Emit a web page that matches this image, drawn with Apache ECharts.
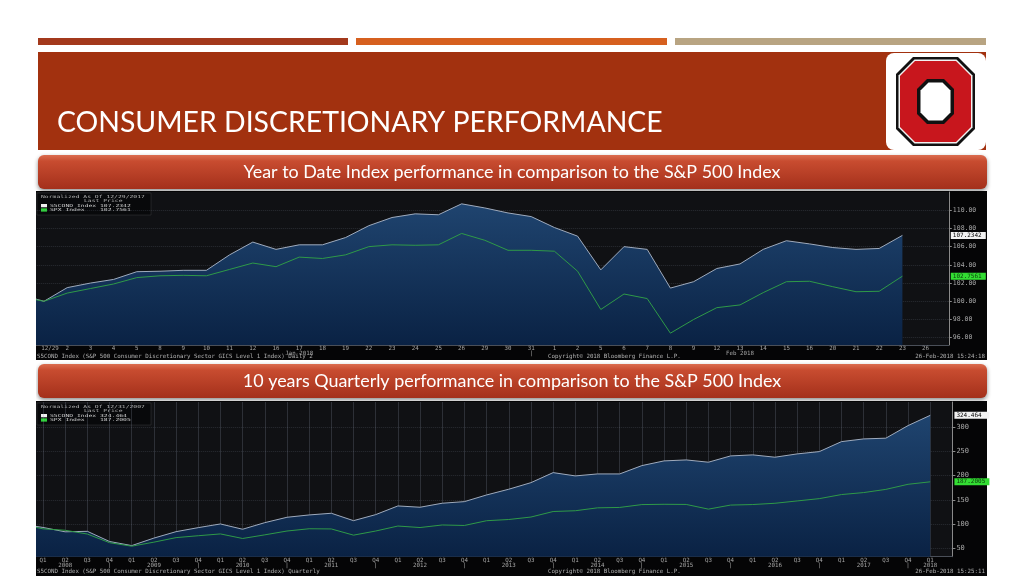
<!DOCTYPE html>
<html><head><meta charset="utf-8">
<script src="https://cdn.jsdelivr.net/npm/echarts@6/dist/echarts.min.js"></script>
<style>html,body{margin:0;padding:0;background:#fff}#c{width:1024px;height:576px}</style>
</head><body><div id="c"></div>
<script>
// ---- Year-to-date (daily, normalized 12/29/2017 = 100) ----
const ytdDates = ['', '12/29','2','3','4','5','8','9','10','11','12','16','17\nJan 2018','18','19','22','23','24','25','26','29','30','31\n|',
  '1','2','5','6','7','8','9','12','13\nFeb 2018','14','15','16','20','21','22','23','26',''];
const ytdCons = [100.7,100.0,101.5,102.0,102.4,103.25,103.3,103.4,103.4,105.1,106.5,105.7,106.2,106.2,107.0,108.3,109.2,109.6,109.5,110.7,110.25,109.7,109.3,
  108.1,107.15,103.45,106.0,105.7,101.45,102.15,103.6,104.1,105.7,106.65,106.3,105.9,105.7,105.8,107.2342,null,null];
const ytdSpx = [100.5,100.0,100.9,101.4,101.9,102.6,102.8,102.85,102.8,103.5,104.2,103.8,104.85,104.7,105.1,106.0,106.2,106.15,106.2,107.45,106.7,105.6,105.6,
  105.5,103.3,99.1,100.8,100.3,96.5,98.0,99.3,99.6,100.95,102.15,102.2,101.6,101.05,101.1,102.7561,null,null];
const ytdTicks = [96,98,100,102,104,106,108,110];

// ---- 10 years quarterly (normalized 12/31/2007 = 100) ----
const qtrLabels = ['',
  'Q1','Q2\n2008','Q3','Q4\n|','Q1','Q2\n2009','Q3','Q4\n|','Q1','Q2\n2010','Q3','Q4\n|','Q1','Q2\n2011','Q3','Q4\n|',
  'Q1','Q2\n2012','Q3','Q4\n|','Q1','Q2\n2013','Q3','Q4\n|','Q1','Q2\n2014','Q3','Q4\n|','Q1','Q2\n2015','Q3','Q4\n|',
  'Q1','Q2\n2016','Q3','Q4\n|','Q1','Q2\n2017','Q3','Q4\n|','Q1\n2018',''];
const qtrCons = [100,93,84,85,64,55.5,71,84.3,92.6,100.2,89.3,102.9,114,118.8,122.3,107,119.5,137.4,134.7,143,146.3,160.1,171.9,185.5,206.2,
  199.4,203.5,203.5,220.7,230.4,232.4,227.7,240.7,242.8,238,244.8,249.6,270.2,275.8,277.3,303.3,324.464,null];
const qtrSpx = [100,90.1,87.2,79.4,61.5,54.3,62.6,72.0,75.9,79.6,70.2,77.7,85.6,90.3,89.9,77.1,85.6,95.9,92.8,98.1,97.1,106.9,109.4,114.5,125.9,
  127.5,133.5,134.3,140.2,140.8,140.5,130.8,139.2,140.3,142.9,147.7,152.5,160.9,165.0,171.6,182.1,187.2005,null];
const qtrTicks = [50,100,150,200,250,300];

const ytdTitle = 'Year to Date Index performance in comparison to the S&P 500 Index';
const qtrTitle = '10 years Quarterly performance in comparison to the S&P 500 Index';
const slideTitle = 'CONSUMER DISCRETIONARY PERFORMANCE';

function lastVal(a){ for(let i=a.length-1;i>=0;i--){ if(a[i]!=null) return a[i]; } }

const MONO = 'DejaVu Sans Mono';
const chart = echarts.init(document.getElementById('c'), null, {renderer:'canvas'});

function areaGrad(){
  return new echarts.graphic.LinearGradient(0,0,0,1,[{offset:0,color:'#1f446f'},{offset:1,color:'#0a2244'}]);
}
function xAxisCfg(grid, data, split){
  return {
    type:'category', gridIndex:grid, data:data, boundaryGap:false,
    axisLine:{show:true, lineStyle:{color:'#4a4f58', width:1}},
    axisTick:{show:false},
    axisLabel:{interval:0, fontSize:5.8, fontFamily:MONO, color:'#a5a5a5', margin:1, lineHeight:5,
      formatter:function(v, i){ return (grid===0 && i===1) ? '{a|'+v+'}' : v; },
      rich:{a:{fontSize:5.8, fontFamily:MONO, color:'#a5a5a5', padding:[0,0,0,12], lineHeight:5}}},
    splitLine:{show:split, interval:0, lineStyle:{color:'rgba(150,160,180,0.22)', width:1}}
  };
}
function yAxisCfg(grid, min, max, ticks, dec, fs){
  return {
    type:'value', gridIndex:grid, position:'right', min:min, max:max,
    axisLine:{show:true, lineStyle:{color:'#8a8a8a', width:1}},
    axisTick:{show:true, length:3, customValues:ticks, lineStyle:{color:'#8a8a8a'}},
    axisLabel:{customValues:ticks, fontSize:fs, fontFamily:MONO, color:'#a8a8a8', margin:4,
      formatter:function(v){ return v.toFixed(dec); }},
    splitLine:{show:true, lineStyle:{color:'rgba(130,140,160,0.22)', type:'dotted', width:1}}
  };
}
function tagLine(val, bg, fg){
  return {
    silent:true, symbol:['none','none'], animation:false,
    lineStyle:{color:'rgba(0,0,0,0)', width:1, type:'solid'},
    label:{show:true, position:'end', distance:2, formatter:function(){ return String(val); },
      backgroundColor:bg, color:fg, fontSize:6, fontFamily:MONO, padding:[1,2,0,2], width:31, opacity:1},
    emphasis:{disabled:true},
    data:[{yAxis:val}]
  };
}
function legendGroup(x, y, asOf, v1, v2){
  const sy = 0.66;
  return {
    type:'group', x:x, y:y, children:[
      {type:'rect', shape:{x:0, y:0, width:114, height:22}, style:{fill:'#08090b', stroke:'rgba(90,90,90,0.6)', lineWidth:0.5}},
      {type:'group', x:4, y:2, scaleY:sy, children:[
        {type:'text', x:0, y:0, style:{text:'Normalized As Of '+asOf, font:'6.4px '+MONO, fill:'#b5b5b5'}},
        {type:'text', x:43, y:6.6, style:{text:'Last Price', font:'6.4px '+MONO, fill:'#b5b5b5'}},
        {type:'rect', shape:{x:0, y:13.6, width:6, height:5}, style:{fill:'#f0f0f0'}},
        {type:'text', x:9, y:13, style:{text:'S5COND Index '+v1, font:'6.4px '+MONO, fill:'#d0d0d0'}},
        {type:'rect', shape:{x:0, y:20.2, width:6, height:5}, style:{fill:'#2fd23a'}},
        {type:'text', x:9, y:19.6, style:{text:'SPX Index    '+v2, font:'6.4px '+MONO, fill:'#d0d0d0'}}
      ]}
    ]
  };
}
function footer(y, left, right){
  const f = '5.8px '+MONO;
  return [
    {type:'text', x:37, y:y, style:{text:left, font:f, fill:'#b0b0b0', verticalAlign:'middle'}},
    {type:'text', x:548, y:y, style:{text:'Copyright\u00a9 2018 Bloomberg Finance L.P.', font:f, fill:'#b0b0b0', verticalAlign:'middle'}},
    {type:'text', x:985, y:y, style:{text:right, font:f, fill:'#b0b0b0', verticalAlign:'middle', align:'right'}}
  ];
}
function oct(x1,y1,x2,y2,c){
  return [[x1+c,y1],[x2-c,y1],[x2,y1+c],[x2,y2-c],[x2-c,y2],[x1+c,y2],[x1,y2-c],[x1,y1+c]];
}
function banner(y, text){
  return [
    {type:'rect', shape:{x:38, y:y, width:949, height:34, r:6}, z:-5,
      style:{fill:new echarts.graphic.LinearGradient(0,0,0,1,[{offset:0,color:'#db6d50'},{offset:0.18,color:'#c84c30'},{offset:1,color:'#a4301b'}]),
        shadowBlur:4, shadowColor:'rgba(0,0,0,0.45)', shadowOffsetY:2}},
    {type:'text', x:512, y:y+17, z:-4, style:{text:text, font:'17.9px Lato', fill:'#ffffff', align:'center', verticalAlign:'middle'}}
  ];
}

const graphics = [
  // top bars
  {type:'rect', shape:{x:38, y:38, width:310, height:7}, z:-5, style:{fill:'#a3391c'}},
  {type:'rect', shape:{x:356, y:38, width:311, height:7}, z:-5, style:{fill:'#d6601f'}},
  {type:'rect', shape:{x:675, y:38, width:311, height:7}, z:-5, style:{fill:'#b8a482'}},
  // header block
  {type:'rect', shape:{x:38, y:52, width:948, height:98}, z:-5, style:{fill:'#a2310f'}},
  {type:'text', x:57, y:123, z:-4, style:{text:slideTitle, font:'28.4px Lato', fill:'#ffffff', verticalAlign:'middle'}},
  // logo
  {type:'rect', shape:{x:886, y:53, width:100, height:97, r:8}, z:-4, style:{fill:'#ffffff'}},
  {type:'polygon', shape:{points:oct(896,57,975,146,17)}, z:-3, style:{fill:'#111111'}},
  {type:'polygon', shape:{points:oct(898.5,59.5,972.5,143.5,16)}, z:-3, style:{fill:'#f2f2f2'}},
  {type:'polygon', shape:{points:oct(900,61,971,142,15)}, z:-3, style:{fill:'#c8161d'}},
  {type:'polygon', shape:{points:oct(917,79,954,124,10)}, z:-3, style:{fill:'#111111'}},
  {type:'polygon', shape:{points:oct(920.5,82.5,950.5,120.5,8)}, z:-3, style:{fill:'#ffffff'}},
  // chart panels
  {type:'rect', shape:{x:36, y:191, width:951, height:169}, z:-5, style:{fill:'#050506'}},
  {type:'rect', shape:{x:36, y:401, width:951, height:175}, z:-5, style:{fill:'#050506'}},
  // white cover left of panels
  {type:'rect', shape:{x:0, y:190, width:36, height:386}, z:50, style:{fill:'#ffffff'}},
  legendGroup(37, 193, '12/29/2017', lastVal(ytdCons), lastVal(ytdSpx)),
  legendGroup(37, 403, '12/31/2007', lastVal(qtrCons), lastVal(qtrSpx))
].concat(banner(155, ytdTitle), banner(364, qtrTitle),
  footer(356.5, 'S5COND Index (S&P 500 Consumer Discretionary Sector GICS Level 1 Index) Daily 2', '26-Feb-2018 15:24:18'),
  footer(571, 'S5COND Index (S&P 500 Consumer Discretionary Sector GICS Level 1 Index) Quarterly', '26-Feb-2018 15:25:11'));

chart.setOption({
  animation:false,
  backgroundColor:'#ffffff',
  grid:[
    {left:20.8, right:75.2, top:192, bottom:231, show:true, backgroundColor:'#101114', borderWidth:0},
    {left:20.8, right:71.6, top:402, bottom:19.3, show:true, backgroundColor:'#101114', borderWidth:0}
  ],
  xAxis:[ xAxisCfg(0, ytdDates, false), xAxisCfg(1, qtrLabels, true) ],
  yAxis:[ yAxisCfg(0, 95.2, 112, ytdTicks, 2, 6.5), yAxisCfg(1, 32.6, 352, qtrTicks, 0, 7) ],
  series:[
    {type:'line', name:'S5COND Index', xAxisIndex:0, yAxisIndex:0, data:ytdCons, symbol:'none', z:2,
      lineStyle:{color:'#9fabbd', width:1}, areaStyle:{color:areaGrad(), opacity:1},
      markLine:tagLine(lastVal(ytdCons), '#f2f2f2', '#000')},
    {type:'line', name:'SPX Index', xAxisIndex:0, yAxisIndex:0, data:ytdSpx, symbol:'none', z:3,
      lineStyle:{color:'#2f9a48', width:1},
      markLine:tagLine(lastVal(ytdSpx), '#33dd33', '#0a3a0a')},
    {type:'line', name:'S5COND Index', xAxisIndex:1, yAxisIndex:1, data:qtrCons, symbol:'none', z:2,
      lineStyle:{color:'#9fabbd', width:1}, areaStyle:{color:areaGrad(), opacity:1},
      markLine:tagLine(lastVal(qtrCons), '#f2f2f2', '#000')},
    {type:'line', name:'SPX Index', xAxisIndex:1, yAxisIndex:1, data:qtrSpx, symbol:'none', z:3,
      lineStyle:{color:'#2f9a48', width:1},
      markLine:tagLine(lastVal(qtrSpx), '#33dd33', '#0a3a0a')}
  ],
  graphic:graphics
});
</script></body></html>
